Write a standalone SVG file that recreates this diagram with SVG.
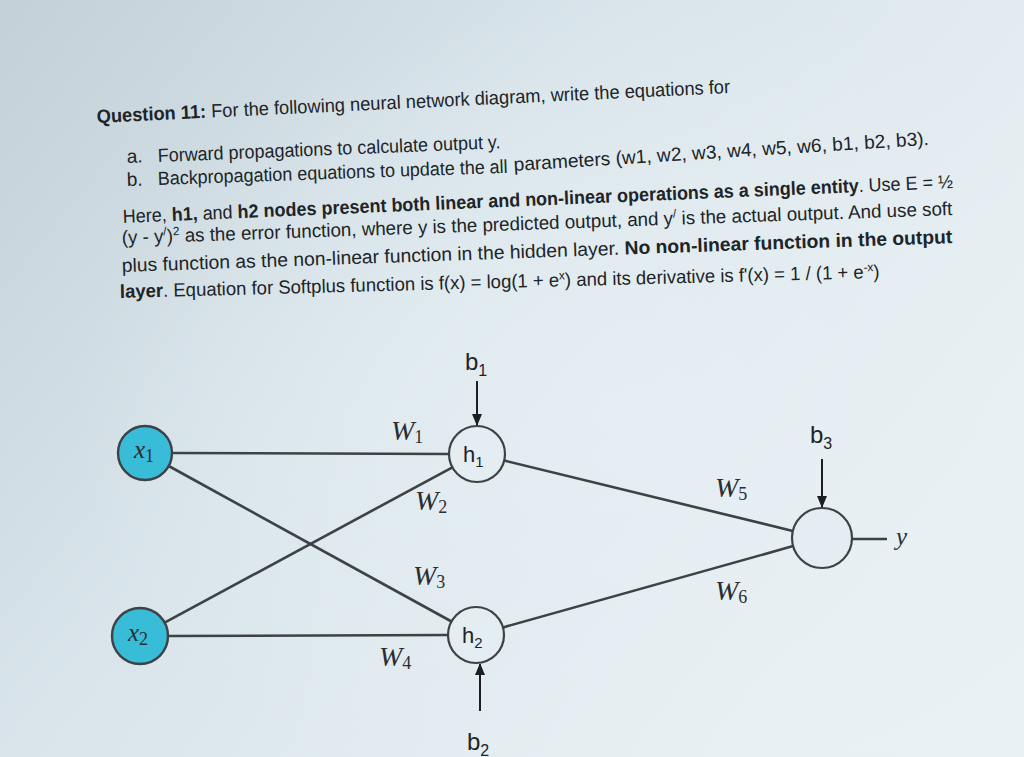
<svg xmlns="http://www.w3.org/2000/svg" width="1024" height="757" viewBox="0 0 1024 757">
<defs>
<linearGradient id="bg" x1="0" y1="0" x2="1" y2="0.6">
<stop offset="0" stop-color="#c3d0d7"/>
<stop offset="0.45" stop-color="#d9e5eb"/>
<stop offset="1" stop-color="#eaf1f4"/>
</linearGradient>
<radialGradient id="glow" cx="0.62" cy="0.55" r="0.55">
<stop offset="0" stop-color="#e6eff3" stop-opacity="0.8"/>
<stop offset="1" stop-color="#e6eff3" stop-opacity="0"/>
</radialGradient>
<marker id="arr" viewBox="0 0 12 10" refX="11" refY="5" markerWidth="6" markerHeight="5" orient="auto" markerUnits="strokeWidth">
<path d="M0,0 L12,5 L0,10 z" fill="#1c1f22"/>
</marker>
<style>
.t{font-family:"Liberation Sans","Open Sans",sans-serif;font-size:19px;fill:#202427}
.b{font-weight:bold}
.sup{font-size:12px}
.edge{stroke:#3c4245;stroke-width:2.6;fill:none}
.bias{stroke:#1c1f22;stroke-width:2;fill:none}
.in{fill:#38bcd8;stroke:#3c4245;stroke-width:2.4}
.hid{fill:#e4edf1;stroke:#3c4245;stroke-width:2.2}
.math{font-family:"Liberation Serif","DejaVu Serif",serif;font-style:italic;fill:#2a2e31}
.sub{font-family:"Liberation Serif",serif;font-style:normal}
.lab{font-family:"Liberation Sans","Open Sans",sans-serif;fill:#1f2326}
</style>
</defs>
<rect width="1024" height="757" fill="url(#bg)"/>
<rect width="1024" height="757" fill="url(#glow)"/>

<g id="question-text">
<text class="t" x="97" y="123" transform="rotate(-2.71 97 123)" textLength="634" lengthAdjust="spacingAndGlyphs"><tspan class="b">Question 11:</tspan> For the following neural network diagram, write the equations for</text>
<text class="t" x="127" y="163" transform="rotate(-2.3 127 163)">a.</text>
<text class="t" x="158" y="162" transform="rotate(-2.3 158 162)" textLength="343" lengthAdjust="spacingAndGlyphs">Forward propagations to calculate output y.</text>
<text class="t" x="127" y="186" transform="rotate(-2.0 127 186)">b.</text>
<text class="t" x="158" y="185" transform="rotate(-2.0 158 185)" textLength="350" lengthAdjust="spacingAndGlyphs">Backpropagation equations to update the all</text>
<text class="t" x="514" y="171" transform="rotate(-3.6 514 171)" textLength="416" lengthAdjust="spacingAndGlyphs">parameters (w1, w2, w3, w4, w5, w6, b1, b2, b3).</text>
<text class="t" x="123" y="223" transform="rotate(-2.41 123 223)" textLength="831" lengthAdjust="spacingAndGlyphs">Here, <tspan class="b">h1,</tspan> and <tspan class="b">h2 nodes present both linear and non-linear operations as a single entity</tspan>. Use E = ½</text>
<text class="t" x="122" y="244" transform="rotate(-2.0 122 244)" textLength="831" lengthAdjust="spacingAndGlyphs">(y - y<tspan class="sup" dy="-7">/</tspan><tspan dy="7">)</tspan><tspan class="sup" dy="-7">2</tspan><tspan dy="7"> as the error function, where y is the predicted output, and y</tspan><tspan class="sup" dy="-7">/</tspan><tspan dy="7"> is the actual output. And use soft</tspan></text>
<text class="t" x="122" y="272" transform="rotate(-2.0 122 272)" textLength="831" lengthAdjust="spacingAndGlyphs">plus function as the non-linear function in the hidden layer. <tspan class="b">No non-linear function in the output</tspan></text>
<text class="t" x="120" y="298" transform="rotate(-1.51 120 298)" textLength="760" lengthAdjust="spacingAndGlyphs"><tspan class="b">layer</tspan>. Equation for Softplus function is f(x) = log(1 + e<tspan class="sup" dy="-7">x</tspan><tspan dy="7">)  and its derivative is f'(x) = 1 / (1 + e</tspan><tspan class="sup" dy="-7">-x</tspan><tspan dy="7">)</tspan></text>
</g>

<g id="connectors">
<line class="edge" x1="172" y1="453" x2="449" y2="454"/>
<line class="edge" x1="168.7" y1="466" x2="451.5" y2="621.5"/>
<line class="edge" x1="164.6" y1="622.7" x2="452.4" y2="467.3"/>
<line class="edge" x1="168" y1="636" x2="448" y2="635"/>
<line class="edge" x1="504.2" y1="460.6" x2="792.8" y2="530.9"/>
<line class="edge" x1="503" y1="627.4" x2="793.1" y2="546.1"/>
<line class="edge" x1="852" y1="539" x2="887" y2="539"/>
<line class="bias" x1="477" y1="381" x2="477" y2="425" marker-end="url(#arr)"/>
<line class="bias" x1="822" y1="459" x2="822" y2="507" marker-end="url(#arr)"/>
<line class="bias" x1="480" y1="711" x2="480" y2="664" marker-end="url(#arr)"/>
</g>

<g id="node-x1">
<circle class="in" cx="145" cy="453" r="27"/>
<text class="math" x="134" y="458" font-size="25">x<tspan class="sub" font-size="18" dy="4">1</tspan></text>
</g>
<g id="node-x2">
<circle class="in" cx="140" cy="636" r="28"/>
<text class="math" x="128" y="641" font-size="25">x<tspan class="sub" font-size="18" dy="4">2</tspan></text>
</g>
<g id="node-h1">
<circle class="hid" cx="477" cy="454" r="28"/>
<text class="lab" x="463" y="462" font-size="22">h<tspan font-size="15" dy="5">1</tspan></text>
</g>
<g id="node-h2">
<circle class="hid" cx="476" cy="635" r="28"/>
<text class="lab" x="462" y="643" font-size="22">h<tspan font-size="15" dy="5">2</tspan></text>
</g>
<g id="node-out">
<circle class="hid" cx="822" cy="538" r="30"/>
</g>
<g id="label-y">
<text class="math" x="896" y="545" font-size="25">y</text>
</g>
<g id="bias-labels">
<text class="lab" x="465" y="370" font-size="24">b<tspan font-size="16" dy="6">1</tspan></text>
<text class="lab" x="810" y="443" font-size="24">b<tspan font-size="16" dy="6">3</tspan></text>
<text class="lab" x="467" y="750" font-size="24">b<tspan font-size="16" dy="6">2</tspan></text>
</g>
<g id="weight-labels">
<text class="math" x="391" y="440" font-size="28">W<tspan class="sub" font-size="18" dy="3">1</tspan></text>
<text class="math" x="415" y="510" font-size="28">W<tspan class="sub" font-size="18" dy="3">2</tspan></text>
<text class="math" x="413" y="585" font-size="28">W<tspan class="sub" font-size="18" dy="3">3</tspan></text>
<text class="math" x="379" y="666" font-size="28">W<tspan class="sub" font-size="18" dy="3">4</tspan></text>
<text class="math" x="715" y="497" font-size="28">W<tspan class="sub" font-size="18" dy="3">5</tspan></text>
<text class="math" x="715" y="600" font-size="28">W<tspan class="sub" font-size="18" dy="3">6</tspan></text>
</g>
</svg>
